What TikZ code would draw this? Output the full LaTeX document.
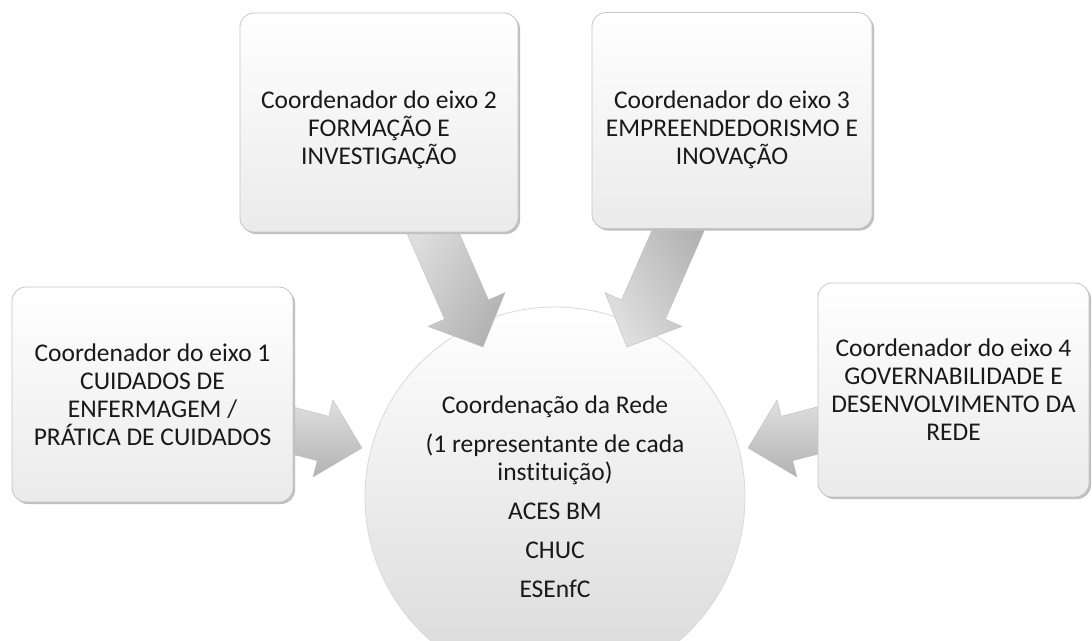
\documentclass[tikz,border=0pt]{standalone}
\usepackage{fontspec}
\setmainfont{Carlito}[Ligatures=NoCommon]
\newcommand\bodyfont{\fontsize{25.5}{28}\selectfont}
\tikzset{
  cbox/.style={rounded corners=14pt, draw=gray!45, line width=0.8pt, top color=white, bottom color=gray!16, inner sep=0pt},
  boxtext/.style={align=center, font=\bodyfont, inner sep=0pt, text=black!90},
  shadowbox/.style={rounded corners=14pt, fill=gray!50, draw=none, inner sep=0pt},
  blockarrow/.style={draw=gray!50, line width=0.4pt, left color=gray!25, right color=gray!60, line join=round},
  hub/.style={circle, inner sep=0pt, minimum size=380pt, draw=gray!30, line width=0.8pt, top color=white, middle color=white, bottom color=gray!30},
  hubtext/.style={align=center, font=\bodyfont, text=black!90, inner sep=0pt}
}
\begin{document}
\begin{tikzpicture}[x=1pt,y=-1pt]
\clip (0,0) rectangle (1092,640);
\fill[white] (0,0) rectangle (1092,640);

% central circle
\node[hub] (c) at (555,497) {};
\node[hubtext] (ct) at (555,497) {Coordenação da Rede\\[11pt](1 representante de cada\\instituição)\\[11pt]ACES BM\\[11pt]CHUC\\[11pt]ESEnfC};

% block arrows
\path[blockarrow, shading angle=60] (449,209.7) -- (488.5,299.9) -- (505,292.6) -- (483,347) -- (428,326.4) -- (444.5,319.1) -- (405,228.9) -- cycle;
\path[blockarrow, shading angle=120] (661,209.7) -- (621.5,299.9) -- (605,292.6) -- (627,347) -- (682,326.4) -- (665.5,319.1) -- (705,228.9) -- cycle;
\path[blockarrow, shading angle=0] (285.8,405.1) -- (328.8,416.3) -- (333,400) -- (362,448) -- (313,477) -- (317.2,460.7) -- (274.2,449.5) -- cycle;
\path[blockarrow, shading angle=0] (824.2,405.1) -- (781.2,416.3) -- (777,400) -- (748,448) -- (797,477) -- (792.8,460.7) -- (835.8,449.5) -- cycle;

% shadows
\node[shadowbox, minimum width=278pt, minimum height=219pt] at (381,124.5) {};
\node[shadowbox, minimum width=280pt, minimum height=216pt] at (734,122.5) {};
\node[shadowbox, minimum width=281pt, minimum height=215pt] at (154.5,396.5) {};
\node[shadowbox, minimum width=271pt, minimum height=214pt] at (955.5,392) {};

% boxes
\node[cbox, minimum width=278pt, minimum height=219pt] (e2) at (379,122.5) {};
\node[boxtext] (e2t) at (379,130) {Coordenador do eixo 2\\FORMAÇÃO E\\INVESTIGAÇÃO};
\node[cbox, minimum width=280pt, minimum height=216pt] (e3) at (732,120.5) {};
\node[boxtext] (e3t) at (732,130) {Coordenador do eixo 3\\EMPREENDEDORISMO E\\INOVAÇÃO};
\node[cbox, minimum width=281pt, minimum height=215pt] (e1) at (152.5,394.5) {};
\node[boxtext] (e1t) at (152.5,394.5) {Coordenador do eixo 1\\CUIDADOS DE\\ENFERMAGEM /\\PRÁTICA DE CUIDADOS};
\node[cbox, minimum width=271pt, minimum height=214pt] (e4) at (953.5,390) {};
\node[boxtext] (e4t) at (953.5,390) {Coordenador do eixo 4\\GOVERNABILIDADE E\\DESENVOLVIMENTO DA\\REDE};
\end{tikzpicture}
\end{document}
